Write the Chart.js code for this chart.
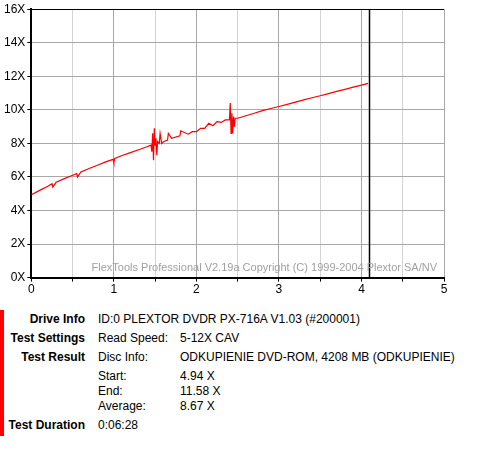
<!DOCTYPE html>
<html><head><meta charset="utf-8">
<script src="https://cdn.jsdelivr.net/npm/chart.js@4"></script>
<style>
body{margin:0;background:#fff;font-family:"Liberation Sans",Arial,sans-serif;font-size:12px;}
#wrap{position:absolute;left:0;top:0;width:460px;height:298px;}
#info{position:absolute;left:0;top:310px;width:480px;}
.bar{position:absolute;left:0;top:0;width:4px;height:126px;background:#f00;}
.r{position:absolute;white-space:nowrap;}
.l{font-weight:bold;text-align:right;width:85px;left:0;}
</style></head><body>
<div id="wrap"><canvas id="c" width="460" height="298"></canvas></div>
<div id="info"><div class="bar"></div>
<div class="r l" style="top:2px">Drive Info</div><div class="r" style="left:98px;top:2px">ID:0 PLEXTOR DVDR PX-716A V1.03 (#200001)</div>
<div class="r l" style="top:21px">Test Settings</div><div class="r" style="left:98px;top:21px">Read Speed:</div><div class="r" style="left:180px;top:21px">5-12X CAV</div>
<div class="r l" style="top:40px">Test Result</div><div class="r" style="left:98px;top:40px">Disc Info:</div><div class="r" style="left:180px;top:40px">ODKUPIENIE DVD-ROM, 4208 MB (ODKUPIENIE)</div>
<div class="r" style="left:98px;top:59px">Start:</div><div class="r" style="left:180px;top:59px">4.94 X</div>
<div class="r" style="left:98px;top:74px">End:</div><div class="r" style="left:180px;top:74px">11.58 X</div>
<div class="r" style="left:98px;top:89px">Average:</div><div class="r" style="left:180px;top:89px">8.67 X</div>
<div class="r l" style="top:108px">Test Duration</div><div class="r" style="left:98px;top:108px">0:06:28</div>
</div>
<script>
const posGB=[0,0.1,0.2,0.25,0.26,0.3,0.4,0.5,0.55,0.56,0.6,0.7,0.8,0.9,0.99,1.0,1.01,1.1,1.2,1.3,1.4,1.45,1.46,1.47,1.48,1.49,1.5,1.51,1.52,1.53,1.55,1.56,1.58,1.6,1.65,1.66,1.7,1.8,1.81,1.9,1.95,2.0,2.05,2.1,2.15,2.2,2.25,2.3,2.35,2.4,2.41,2.42,2.43,2.44,2.45,2.46,2.47,2.5,2.6,2.7,2.8,2.9,3.0,3.1,3.2,3.3,3.4,3.5,3.6,3.7,3.8,3.9,4.0,4.08];
const speedX=[4.94,5.2,5.45,5.6,5.4,5.68,5.9,6.1,6.2,6.0,6.3,6.5,6.7,6.9,7.05,6.85,7.1,7.28,7.45,7.62,7.8,7.9,7.5,8.6,7.0,8.9,7.9,8.3,7.3,8.1,8.0,8.6,8.0,8.1,8.2,8.6,8.3,8.45,8.75,8.55,8.7,8.7,8.9,8.9,9.2,9.05,9.3,9.25,9.4,9.4,10.4,8.6,9.8,8.6,9.6,9.0,9.5,9.5,9.65,9.8,9.95,10.08,10.2,10.33,10.46,10.59,10.72,10.84,10.97,11.1,11.22,11.35,11.47,11.58];
const yTicks=[0,2,4,6,8,10,12,14,16];
const xTicks=[0,1,2,3,4,5];
const markerX=4.09;
const watermark="FlexTools Professional V2.19a Copyright (C) 1999-2004 Plextor SA/NV";
const extras={id:'extras',afterDatasetsDraw(ch){const {ctx,chartArea:a,scales:{x}}=ch;ctx.save();
ctx.strokeStyle='#000';ctx.lineWidth=1.5;const px=Math.round(x.getPixelForValue(markerX))+0.5;
ctx.beginPath();ctx.moveTo(px,a.top);ctx.lineTo(px,a.bottom);ctx.stroke();
ctx.fillStyle='#a0a0a0';ctx.font='11px "Liberation Sans",Arial';ctx.textAlign='right';ctx.textBaseline='bottom';
ctx.fillText(watermark,a.right-7,a.bottom-4);ctx.restore();}};
new Chart(document.getElementById('c'),{type:'line',
data:{datasets:[{data:posGB.map((v,i)=>({x:v,y:speedX[i]})),borderColor:'#ff0000',borderWidth:1.2,pointRadius:0,tension:0}]},
options:{responsive:false,animation:false,layout:{padding:{top:2,right:16,left:2}},
plugins:{legend:{display:false},tooltip:{enabled:false}},
scales:{
x:{type:'linear',min:0,max:5,border:{color:'#000',width:2},
 afterBuildTicks(s){s.ticks=[];for(let i=0;i<=10;i++)s.ticks.push({value:i/2});},
 grid:{color:c=>c.tick.value%1===0?'#a8a8a8':'#d4d4d4',drawTicks:true,tickLength:4,tickColor:'#000'},
 ticks:{color:'#000',font:{size:12,family:'"Liberation Sans",Arial'},padding:1,autoSkip:false,callback:v=>xTicks.includes(v)?String(v):''}},
y:{min:0,max:16,border:{color:'#000',width:2},
 afterBuildTicks(s){s.ticks=yTicks.map(v=>({value:v}));},
 grid:{color:c=>c.tick.value===16?'#000':'#a8a8a8',tickLength:4,tickColor:'#000'},
 ticks:{color:'#000',font:{size:12,family:'"Liberation Sans",Arial'},padding:2,callback:v=>v+'X'}}}},
plugins:[extras]});
</script></body></html>
